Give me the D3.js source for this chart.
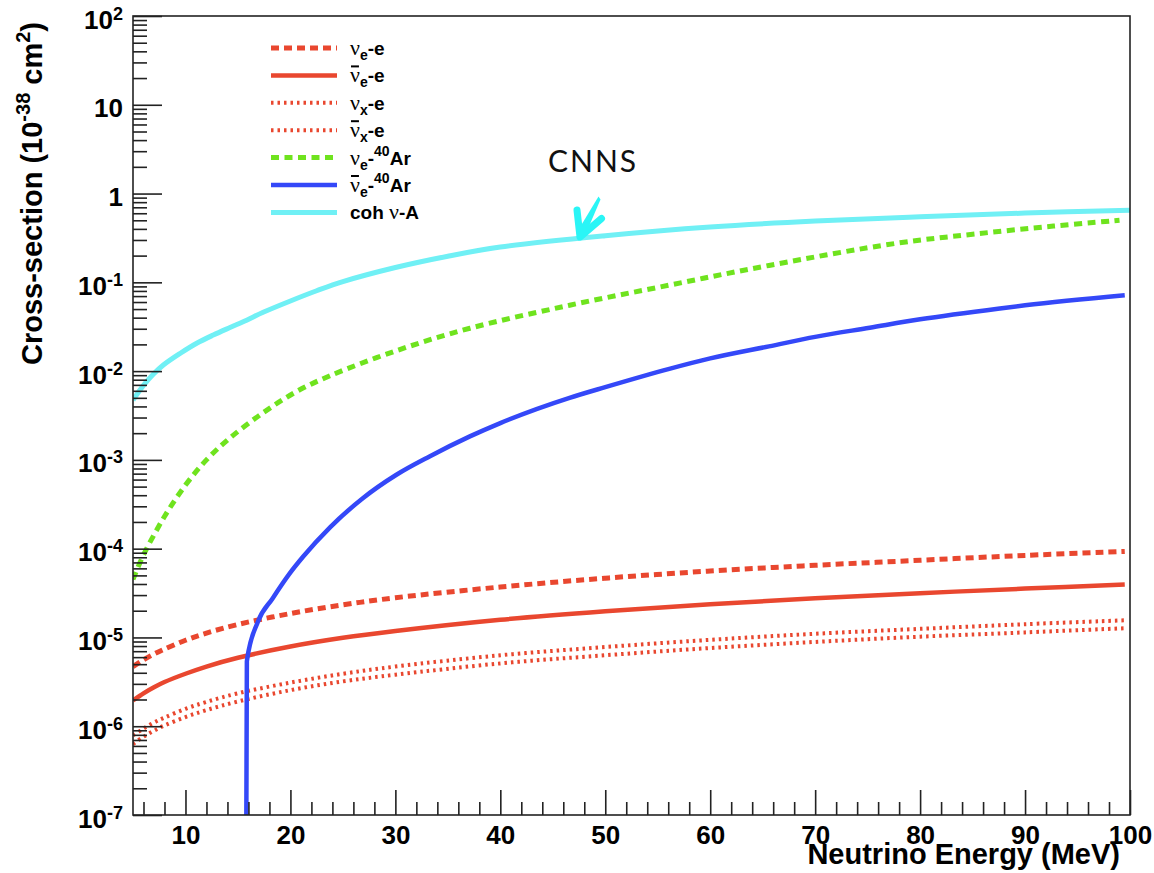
<!DOCTYPE html>
<html>
<head>
<meta charset="utf-8">
<script src="https://cdn.jsdelivr.net/npm/d3@7"></script>
<style>
  html, body { margin: 0; padding: 0; background: #fff; }
  svg { display: block; }
</style>
</head>
<body>
<svg id="chart" width="1154" height="873"></svg>
<script>
// Neutrino energies (MeV) and cross-sections (units of 1e-38 cm^2)
const energyLep = [5, 6, 7, 8, 10, 12, 15, 20, 25, 30, 40, 50, 60, 70, 80, 90, 99.5];
const nueE      = [4.7e-6, 5.6e-6, 6.5e-6, 7.4e-6, 9.3e-6, 1.12e-5, 1.4e-5, 1.86e-5, 2.33e-5, 2.8e-5, 3.7e-5, 4.65e-5, 5.6e-5, 6.5e-5, 7.4e-5, 8.4e-5, 9.3e-5];
const nuebarE   = [1.95e-6, 2.35e-6, 2.75e-6, 3.15e-6, 3.9e-6, 4.7e-6, 5.9e-6, 7.9e-6, 9.9e-6, 1.18e-5, 1.58e-5, 1.97e-5, 2.37e-5, 2.76e-5, 3.15e-5, 3.55e-5, 3.95e-5];
const nuxE      = [7.9e-7, 9.4e-7, 1.1e-6, 1.25e-6, 1.57e-6, 1.88e-6, 2.35e-6, 3.1e-6, 3.9e-6, 4.7e-6, 6.3e-6, 7.8e-6, 9.4e-6, 1.1e-5, 1.25e-5, 1.41e-5, 1.56e-5];
const nuxbarE   = [6.3e-7, 7.6e-7, 8.9e-7, 1.02e-6, 1.27e-6, 1.52e-6, 1.9e-6, 2.55e-6, 3.2e-6, 3.8e-6, 5.1e-6, 6.3e-6, 7.6e-6, 8.9e-6, 1.02e-5, 1.14e-5, 1.27e-5];

const energyNueAr = [5, 6, 8, 10, 12, 14.2, 17.4, 20.6, 23.8, 30.1, 37.1, 46.6, 56.1, 65.6, 77.8, 85, 92.7, 99];
const nueAr       = [4.5e-5, 8.5e-5, 2.3e-4, 5.2e-4, 1.0e-3, 1.75e-3, 3.4e-3, 5.9e-3, 8.9e-3, 0.017, 0.0304, 0.0552, 0.093, 0.155, 0.276, 0.348, 0.43, 0.50];

const energyNuebarAr = [15.8, 15.85, 16.9, 18.3, 19.9, 21.2, 23.8, 26.9, 30.1, 33.3, 37.1, 40, 46.6, 50, 56.1, 60, 65.6, 70, 75.2, 80, 87.6, 90, 99.5];
const nuebarAr       = [1e-7, 5.4e-6, 1.5e-5, 2.75e-5, 5.2e-5, 8.1e-5, 1.75e-4, 3.7e-4, 6.8e-4, 1.1e-3, 1.84e-3, 2.6e-3, 5.0e-3, 6.6e-3, 0.0106, 0.0139, 0.019, 0.0243, 0.0308, 0.0383, 0.0508, 0.0551, 0.0716];

const energyCoh = [5, 6, 6.93, 7.89, 9.48, 11.07, 12.65, 14.24, 15.83, 17.4, 20, 22.5, 25, 30, 35, 40, 50, 60, 70, 80, 90, 100];
const cohAr     = [4.72e-3, 6.9e-3, 9.2e-3, 0.0117, 0.0158, 0.0206, 0.0255, 0.031, 0.0375, 0.046, 0.0617, 0.0804, 0.102, 0.147, 0.197, 0.25, 0.335, 0.42, 0.49, 0.547, 0.603, 0.65];

// Axis ticks
const xMajorTicks = [10, 20, 30, 40, 50, 60, 70, 80, 90, 100];
const yMajorExponents = [-7, -6, -5, -4, -3, -2, -1, 0, 1, 2];

// Legend entries: [text, role]
const legendLabels = [
  [["ν", "nu"], ["e", "sub"], ["-e", "txt"]],
  [["ν", "nubar"], ["e", "sub"], ["-e", "txt"]],
  [["ν", "nu"], ["x", "sub"], ["-e", "txt"]],
  [["ν", "nubar"], ["x", "sub"], ["-e", "txt"]],
  [["ν", "nu"], ["e", "sub"], ["-", "txt"], ["40", "sup"], ["Ar", "txt"]],
  [["ν", "nubar"], ["e", "sub"], ["-", "txt"], ["40", "sup"], ["Ar", "txt"]],
  [["coh ", "txt"], ["ν", "nu"], ["-A", "txt"]]
];

(function draw() {
  const RED = "#e9472f", GREEN = "#6fe31e", BLUE = "#3448f8", CYAN = "#70f0f5";
  const smooth = d3.curveCatmullRom.alpha(0.5);

  const series = [
    { x: energyLep, y: nueE,      color: RED,   width: 5,   dash: "8,5",   curve: smooth },
    { x: energyLep, y: nuebarE,   color: RED,   width: 4.5, dash: null,    curve: smooth },
    { x: energyLep, y: nuxE,      color: RED,   width: 4,   dash: "2.5,4", curve: smooth },
    { x: energyLep, y: nuxbarE,   color: RED,   width: 4,   dash: "2.5,4", curve: smooth },
    { x: energyNueAr, y: nueAr,   color: GREEN, width: 5,   dash: "8,5.5", curve: smooth },
    { x: energyNuebarAr, y: nuebarAr, color: BLUE, width: 4.5, dash: null, curve: d3.curveMonotoneX },
    { x: energyCoh, y: cohAr,     color: CYAN,  width: 5,   dash: null,    curve: smooth }
  ];

  const svg = d3.select("#chart");
  const pL = 133, pR = 1130, pT = 16, pB = 815;

  const x = d3.scaleLinear().domain([5, 100]).range([pL, pR]);
  const y = d3.scaleLog().domain([1e-7, 100]).range([pB, pT]);

  svg.append("rect").attr("width", 1154).attr("height", 873).attr("fill", "#fff");

  svg.append("clipPath").attr("id", "plotClip")
    .append("rect").attr("x", pL).attr("y", pT).attr("width", pR - pL).attr("height", pB - pT);

  // Curves
  const curves = svg.append("g").attr("clip-path", "url(#plotClip)");
  series.forEach(s => {
    const pts = s.x.map((e, i) => [x(e), y(s.y[i])]);
    curves.append("path")
      .attr("d", d3.line().curve(s.curve)(pts))
      .attr("fill", "none")
      .attr("stroke", s.color)
      .attr("stroke-width", s.width)
      .attr("stroke-dasharray", s.dash)
      .attr("stroke-linejoin", "round");
  });

  // Axes
  const FONT = "'Liberation Sans', Arial, Helvetica, sans-serif";
  const tickColor = "#222";

  const yMinor = [];
  for (let e = -7; e < 2; e++) for (let m = 2; m <= 9; m++) yMinor.push(m * Math.pow(10, e));
  const xMinor = d3.range(6, 100, 2).filter(v => v % 10 !== 0);

  const gyMinor = svg.append("g").attr("transform", `translate(${pL},0)`)
    .call(d3.axisLeft(y).tickValues(yMinor).tickSize(-14).tickFormat(""));
  const gy = svg.append("g").attr("transform", `translate(${pL},0)`)
    .call(d3.axisLeft(y).tickValues(yMajorExponents.map(e => Math.pow(10, e))).tickSize(-29).tickPadding(10).tickFormat(""));
  const gxMinor = svg.append("g").attr("transform", `translate(0,${pB})`)
    .call(d3.axisBottom(x).tickValues(xMinor).tickSize(-13).tickFormat(""));
  const gx = svg.append("g").attr("transform", `translate(0,${pB})`)
    .call(d3.axisBottom(x).tickValues(xMajorTicks).tickSize(-25).tickFormat(d => d));

  [gyMinor, gy, gxMinor, gx].forEach(g => {
    g.select(".domain").remove();
    g.selectAll(".tick line").attr("stroke", tickColor).attr("stroke-width", 1.6);
  });

  gx.selectAll(".tick text")
    .attr("y", 29).attr("dy", null)
    .attr("font-family", FONT).attr("font-weight", "bold").attr("font-size", 26)
    .attr("fill", "#000");

  gy.selectAll(".tick text").each(function(d) {
    const ex = Math.round(Math.log10(d));
    const t = d3.select(this).text(null)
      .attr("dy", null).attr("y", 12)
      .attr("font-family", FONT).attr("font-weight", "bold").attr("font-size", 26)
      .attr("fill", "#000").attr("text-anchor", "end");
    if (ex === 0) { t.text("1"); }
    else if (ex === 1) { t.text("10"); }
    else {
      t.append("tspan").text("10");
      t.append("tspan").attr("font-size", 18).attr("dy", -9).text(ex);
    }
  });

  // Frame
  svg.append("rect")
    .attr("x", pL).attr("y", pT).attr("width", pR - pL).attr("height", pB - pT)
    .attr("fill", "none").attr("stroke", "#222").attr("stroke-width", 1.6);

  // Axis titles
  svg.append("text")
    .attr("x", 1120).attr("y", 864).attr("text-anchor", "end")
    .attr("font-family", FONT).attr("font-weight", "bold").attr("font-size", 29)
    .attr("fill", "#000")
    .text("Neutrino Energy (MeV)");

  const yt = svg.append("text")
    .attr("transform", "translate(42,365) rotate(-90)")
    .attr("font-family", FONT).attr("font-weight", "bold").attr("font-size", 29)
    .attr("fill", "#000");
  yt.append("tspan").text("Cross-section (10");
  yt.append("tspan").attr("font-size", 20).attr("dy", -12).text("-38");
  yt.append("tspan").attr("dy", 12).text(" cm");
  yt.append("tspan").attr("font-size", 20).attr("dy", -12).text("2");
  yt.append("tspan").attr("dy", 12).text(")");

  // Legend
  const legendY0 = 48, legendStep = 27.4;
  const legend = svg.append("g");
  legendLabels.forEach((parts, i) => {
    const s = series[i];
    const cy = legendY0 + i * legendStep;
    legend.append("line")
      .attr("x1", 271).attr("x2", 337).attr("y1", cy).attr("y2", cy)
      .attr("stroke", s.color).attr("stroke-width", s.width)
      .attr("stroke-dasharray", s.dash);
    const t = legend.append("text")
      .attr("x", 350).attr("y", cy + 7)
      .attr("font-family", FONT).attr("font-weight", "bold").attr("font-size", 19)
      .attr("fill", "#000");
    let shift = 0, charIndex = 0;
    const bars = [];
    parts.forEach(([txt, role]) => {
      const ts = t.append("tspan").text(txt);
      if (role === "nu" || role === "nubar") {
        ts.attr("font-family", "'Liberation Serif', 'DejaVu Serif', serif")
          .attr("font-weight", "normal").attr("font-size", 22);
        if (role === "nubar") bars.push(charIndex);
      }
      let target = 0;
      if (role === "sub") { ts.attr("font-size", 14); target = 5; }
      else if (role === "sup") { ts.attr("font-size", 14); target = -9; }
      if (target !== shift) { ts.attr("dy", target - shift); shift = target; }
      charIndex += txt.length;
    });
    bars.forEach(ci => {
      const b = t.node().getExtentOfChar(ci);
      legend.append("line")
        .attr("x1", b.x + 1).attr("x2", b.x + b.width - 1)
        .attr("y1", cy - 9).attr("y2", cy - 9)
        .attr("stroke", "#000").attr("stroke-width", 2);
    });
  });

  // CNNS annotation
  svg.append("text")
    .attr("x", 548).attr("y", 172)
    .attr("font-family", "Lato, 'Open Sans', sans-serif").attr("font-size", 30)
    .attr("letter-spacing", 2)
    .attr("fill", "#111")
    .text("CNNS");

  const arrowColor = "#2af5f6";
  const arrow = svg.append("g");
  arrow.append("path")
    .attr("d", "M598.5,196.5 L600.5,199.5 L584,238 L576.5,233 Z")
    .attr("fill", arrowColor);
  arrow.append("path")
    .attr("d", "M577,210 L580,237 L601.5,218.5")
    .attr("fill", "none").attr("stroke", arrowColor)
    .attr("stroke-width", 7).attr("stroke-linecap", "round").attr("stroke-linejoin", "round");
})();
</script>
</body>
</html>
